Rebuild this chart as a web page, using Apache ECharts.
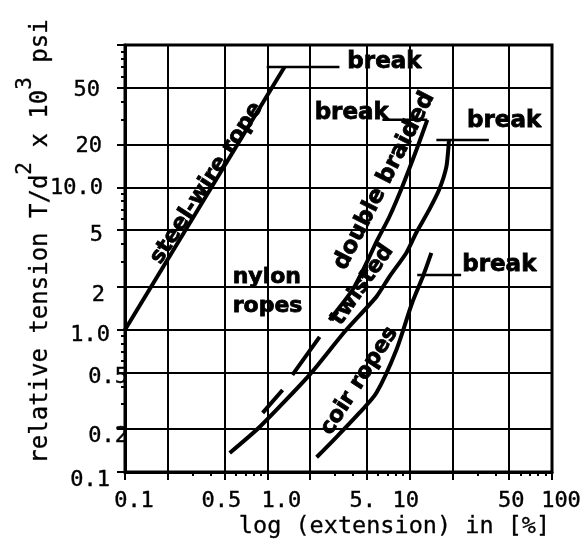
<!DOCTYPE html>
<html><head><meta charset="utf-8">
<script src="https://cdn.jsdelivr.net/npm/echarts@6/dist/echarts.min.js"></script>
<style>html,body{margin:0;padding:0;background:#fff}#c{width:588px;height:547px}</style>
</head><body><div id="c"></div>
<script>
// ---------- data (log-log paper) ----------
const xMajorTicks = [0.1, 0.2, 0.5, 1, 2, 5, 10, 20, 50, 100];
const yMajorTicks = [0.1, 0.2, 0.5, 1, 2, 5, 10, 20, 50, 100];
const xTickLabels = [0.1, 0.5, 1, 5, 10, 50, 100];
const xTickText = ['0.1', '0.5', '1.0', '5.', '10', '50', '100'];
const yTickLabels = [0.1, 0.2, 0.5, 1, 2, 5, 10, 20, 50];
const yTickText = ['0.1', '0.2', '0.5', '1.0', '2', '5', '10.0', '20', '50'];
const decades = [0.1, 1, 10];
const minorSteps = [2, 3, 4, 5, 6, 7, 8, 9];

// extension [%] and relative tension for each rope
const steelX = [0.1, 1.32];
const steelY = [1.0, 70];
const braidX = [0.927, 1.28, null, 1.50, 2.33, null, 2.73, 3.96, 4.97, 5.93, 7.19, 8.87, 11.2, 13.3];
const braidY = [0.26, 0.377, null, 0.481, 0.889, null, 1.17, 1.90, 2.94, 4.27, 6.19, 10.1, 18.5, 29.8];
const twistX = [0.544, 0.883, 1.98, 3.48, 5.83, 7.19, 9.47, 11.1, 13.7, 16.1, 18.1, 18.9];
const twistY = [0.136, 0.207, 0.481, 0.963, 1.70, 2.35, 3.46, 4.78, 6.94, 9.6, 13.9, 21.5];
const coirX = [2.22, 3.06, 4.43, 5.83, 8.06, 10.4, 12.5, 14.2];
const coirY = [0.127, 0.176, 0.26, 0.359, 0.72, 1.54, 2.42, 3.46];
// "break" markers (horizontal strokes)
const steelBreakX = [0.99, 3.21];   const steelBreakY = [70, 70];
const braidBreakX = [6.43, 13.3];   const braidBreakY = [29.8, 29.8];
const twistBreakX = [15.4, 36];     const twistBreakY = [21.5, 21.5];
const coirBreakX = [11.3, 23.0];    const coirBreakY = [2.42, 2.42];
// annotations
const noteText = ['break', 'break', 'break', 'break', 'nylon\nropes', 'steel-wire rope', 'double braided', 'twisted', 'coir ropes'];
const noteX = [3.65, 2.15, 25.3, 23.4, 0.571, 0.375, 6.64, 4.65, 4.43];
const noteY = [76, 33.3, 29.3, 2.85, 1.86, 10.7, 11.1, 2.06, 0.436];

// ---------- styles ----------
const noteStyle = [
  {align: 'left', rotate: 0, size: 23}, {align: 'left', rotate: 0, size: 23}, {align: 'left', rotate: 0, size: 23},
  {align: 'left', rotate: 0, size: 23}, {align: 'left', rotate: 0, size: 22},
  {align: 'center', rotate: 57, size: 22}, {align: 'center', rotate: 63, size: 23},
  {align: 'center', rotate: 55, size: 22}, {align: 'center', rotate: 57, size: 22}
];
// label nudges in px (x: horizontal; y: [extra right gap, downward shift])
const xLabelShift = {'0.1': 9, '0.5': -3, '1': 14, '5': -4, '10': -4, '50': 2, '100': 9};
const yLabelShift = {'0.1': [18, 8], '0.2': [0, 7], '0.5': [0, 5], '1': [18, 6], '2': [23, 8], '5': [25, 5], '10': [25, 1], '20': [26, 2], '50': [28, 2]};

const zip = (xs, ys) => xs.map((x, i) => (x === null ? [null, null] : [x, ys[i]]));
const minorTicks = [];
decades.forEach(d => minorSteps.forEach(k => minorTicks.push(d * k)));

const mono = 'DejaVu Sans Mono';
const hand = 'DejaVu Sans';
const ink = '#000';

const xRich = {}, yRich = {};
xTickLabels.forEach((v, i) => {
  const s = xLabelShift[String(v)] || 0;
  xRich['x' + i] = {fontFamily: mono, fontSize: 22, color: ink, textBorderColor: ink, textBorderWidth: 0.4,
    padding: [0, Math.max(0, -2 * s), 0, Math.max(0, 2 * s)]};
});
yTickLabels.forEach((v, i) => {
  const s = yLabelShift[String(v)] || [0, 0];
  yRich['y' + i] = {fontFamily: mono, fontSize: 22, color: ink, textBorderColor: ink, textBorderWidth: 0.4,
    padding: [2 * s[1], s[0], 0, 0]};
});

const curve = (name, xs, ys, smooth, w) => ({
  type: 'line', name, data: zip(xs, ys), smooth, showSymbol: false, symbol: 'none',
  connectNulls: false, lineStyle: {color: ink, width: w}, silent: true, animation: false, z: 5
});

const chart = echarts.init(document.getElementById('c'));
chart.setOption({
  animation: false,
  backgroundColor: '#fff',
  grid: {left: 125, right: 36, top: 45, bottom: 75, show: true, borderColor: ink, borderWidth: 3,
    outerBoundsMode: 'none', containLabel: false},
  xAxis: [{
    type: 'log', logBase: 10, min: 0.1, max: 100, position: 'bottom',
    name: 'log (extension) in [%]', nameLocation: 'middle', nameGap: 43, nameMoveOverlap: false,
    nameTextStyle: {fontFamily: mono, fontSize: 23.5, color: ink, textBorderColor: ink, textBorderWidth: 0.3,
      padding: [0, 0, 0, 112]},
    axisLine: {show: true, lineStyle: {color: ink, width: 3}},
    axisTick: {customValues: xMajorTicks, length: 8, lineStyle: {color: ink, width: 2}},
    axisLabel: {customValues: xTickLabels, margin: 18, rich: xRich, hideOverlap: false,
      formatter: v => { const i = xTickLabels.findIndex(t => Math.abs(t - v) < 1e-9); return '{x' + i + '|' + xTickText[i] + '}'; }},
    splitLine: {show: true, lineStyle: {color: ink, width: 2}}
  }, {
    type: 'log', logBase: 10, min: 0.1, max: 100, position: 'bottom',
    axisLine: {show: false}, axisLabel: {show: false}, splitLine: {show: false},
    axisTick: {customValues: minorTicks, length: 4, lineStyle: {color: ink, width: 2}}
  }],
  yAxis: [{
    type: 'log', logBase: 10, min: 0.1, max: 100, position: 'left',
    name: '{n|relative tension T/d}{s|2}{n| x 10}{s|3}{n| psi}', nameLocation: 'middle', nameGap: 72, nameRotate: 90,
    nameMoveOverlap: false,
    nameTextStyle: {padding: [0, 0, 0, 34], rich: {
      n: {fontFamily: mono, fontSize: 24, color: ink, textBorderColor: ink, textBorderWidth: 0.3, lineHeight: 38, verticalAlign: 'bottom'},
      s: {fontFamily: mono, fontSize: 21, color: ink, textBorderColor: ink, textBorderWidth: 0.3, lineHeight: 38, verticalAlign: 'top'}}},
    axisLine: {show: true, lineStyle: {color: ink, width: 3}},
    axisTick: {customValues: yMajorTicks, length: 8, lineStyle: {color: ink, width: 2}},
    axisLabel: {customValues: yTickLabels, margin: -3, align: 'right', rich: yRich, hideOverlap: false,
      formatter: v => { const i = yTickLabels.findIndex(t => Math.abs(t - v) < 1e-9); return '{y' + i + '|' + yTickText[i] + '}'; }},
    splitLine: {show: true, lineStyle: {color: ink, width: 2}}
  }, {
    type: 'log', logBase: 10, min: 0.1, max: 100, position: 'left',
    axisLine: {show: false}, axisLabel: {show: false}, splitLine: {show: false},
    axisTick: {customValues: minorTicks, length: 4, lineStyle: {color: ink, width: 2}}
  }],
  series: [
    curve('steel-wire rope', steelX, steelY, false, 4),
    curve('double braided', braidX, braidY, 0.2, 4),
    curve('twisted', twistX, twistY, 0.2, 4),
    curve('coir ropes', coirX, coirY, 0.25, 4),
    curve('steel break', steelBreakX, steelBreakY, false, 2.5),
    curve('braided break', braidBreakX, braidBreakY, false, 2.5),
    curve('twisted break', twistBreakX, twistBreakY, false, 2.5),
    curve('coir break', coirBreakX, coirBreakY, false, 2.5),
    {
      type: 'scatter', symbolSize: 0, silent: true, z: 6,
      itemStyle: {opacity: 1, color: ink},
      data: noteText.map((t, i) => ({
        value: [noteX[i], noteY[i]],
        label: {show: true, position: 'inside', formatter: t, align: noteStyle[i].align, verticalAlign: 'middle',
          rotate: noteStyle[i].rotate, fontFamily: hand, fontWeight: 'bold', fontSize: noteStyle[i].size,
          lineHeight: 29, color: ink, textBorderColor: ink, textBorderWidth: 0.8, opacity: 1}
      }))
    }
  ]
});
</script></body></html>
